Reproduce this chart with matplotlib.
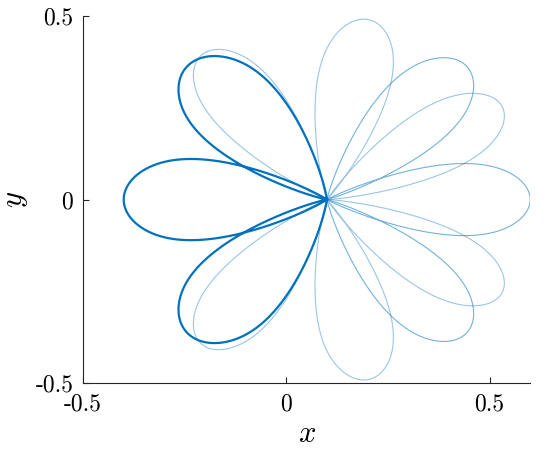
import numpy as np
import matplotlib
matplotlib.use('Agg')
import matplotlib.pyplot as plt

plt.rcParams['mathtext.fontset'] = 'cm'

# flower centre and petal length (data units)
center_x = 0.1
center_y = 0.0
petal_length = 0.5

# petal directions in degrees, one list per curve, plus petal angular width (deg)
bold_angles = [132.5, 180.0, 227.5]
bold_width = 28.7
medium_angles = [-47.4, 0.0, 47.4]
medium_width = 25.4
light_up_angles = [31.0, 78.3, 127.5]
light_down_angles = [-31.0, -78.3, -127.5]
light_width = 23.2

xticks = [-0.5, 0, 0.5]
yticks = [-0.5, 0, 0.5]
xtick_labels = ['-0.5', '0', '0.5']
ytick_labels = ['-0.5', '0', '0.5']

blue = '#0072BD'


def flower(angles, width, n=400):
    # each petal: rounded tip, pinched towards the centre
    xs, ys = [], []
    for a in angles:
        d = np.linspace(-1.5 * width, 1.5 * width, n)
        s = d / width
        r = petal_length * np.exp(-0.7 * s ** 2 - s ** 6)
        r[0] = r[-1] = 0
        phi = np.deg2rad(a + d)
        xs.append(center_x + r * np.cos(phi))
        ys.append(center_y + r * np.sin(phi))
    return np.concatenate(xs), np.concatenate(ys)


fig = plt.figure(figsize=(5.5, 4.5), dpi=100)
ax = fig.add_axes([0.151, 0.148, 0.813, 0.817])

for angs in [light_up_angles, light_down_angles]:
    x, y = flower(angs, light_width)
    ax.plot(x, y, color=blue, lw=0.8, alpha=0.4)
x, y = flower(medium_angles, medium_width)
ax.plot(x, y, color=blue, lw=0.8, alpha=0.55)
x, y = flower(bold_angles, bold_width)
ax.plot(x, y, color=blue, lw=1.6)

ax.set_xlim(-0.5, 0.6)
ax.set_ylim(-0.5, 0.5)
ax.spines['top'].set_visible(False)
ax.spines['right'].set_visible(False)
for s in ['left', 'bottom']:
    ax.spines[s].set_color('#262626')
    ax.spines[s].set_linewidth(0.8)

ax.set_xticks(xticks)
ax.set_xticklabels(xtick_labels, fontfamily='cmr10', fontsize=17)
ax.set_yticks(yticks)
ax.set_yticklabels(ytick_labels, fontfamily='cmr10', fontsize=17)
ax.tick_params(direction='in', length=4.5, width=0.8, color='#262626', pad=7)

ax.set_xlabel('$x$', fontsize=22, labelpad=3)
ax.set_ylabel('$y$', fontsize=22, labelpad=4)

fig.savefig('out.png', dpi=100)
